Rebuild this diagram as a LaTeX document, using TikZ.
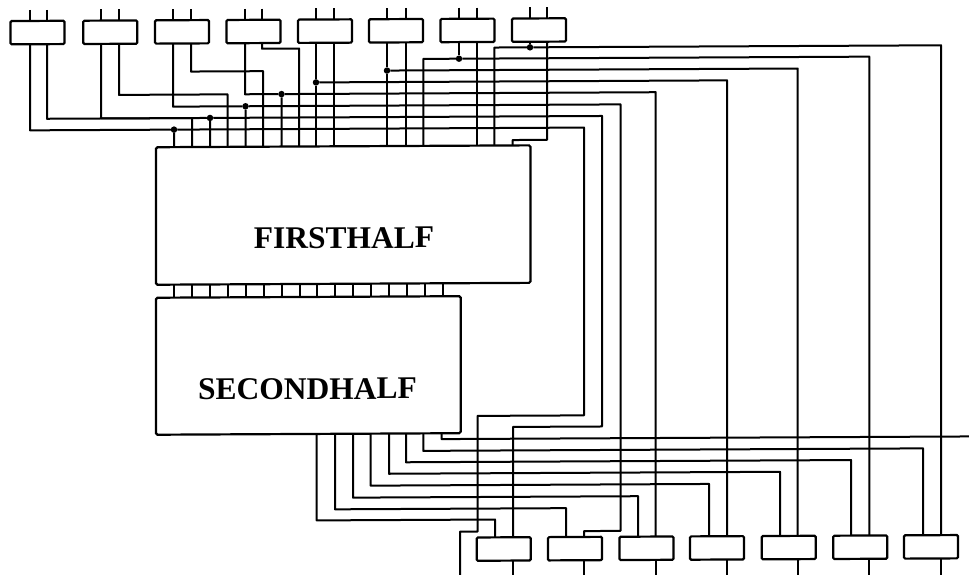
\documentclass[tikz,border=0pt]{standalone}
\usepackage{fontspec}
\setmainfont{Liberation Serif}
\tikzset{
  wire/.style={line width=2pt,line join=round},
  unitbox/.style={draw,line width=2.2pt,rounded corners=1.2pt,minimum width=54pt,minimum height=23.3pt,inner sep=0pt,outer sep=0pt},
  blockbox/.style={draw,line width=2.2pt,rounded corners=1.5pt,inner sep=0pt,outer sep=0pt},
  blocklabel/.style={font=\bfseries\fontsize{31.5}{34}\selectfont,inner sep=0pt},
  joint/.style={circle,fill=black,inner sep=0pt,minimum size=6.5pt,outer sep=0pt}
}
\begin{document}
\begin{tikzpicture}
\useasboundingbox (0,0) rectangle (969pt,-575pt);
\clip (0,0) rectangle (969pt,-575pt);
\begin{scope}[x=1pt,y=-1pt,yslant=0.005,every node/.append style={transform shape}]
% blocks
\node[blockbox,minimum width=374.5pt,minimum height=137.5pt] (first) at (343.25,216.75) {};
\node[blockbox,minimum width=304.7pt,minimum height=137pt] (second) at (308.35,367) {};
\node[blocklabel] (firstlabel) at (344,239.7) {FIRSTHALF};
\node[blocklabel] (secondlabel) at (307.5,390.5) {SECONDHALF};
% links between the blocks
\foreach \i in {0,...,15}{
  \coordinate (ma\i) at ({174+17.93*\i},285.5);
  \coordinate (mb\i) at ({174+17.93*\i},298.5);
  \draw[wire] (ma\i) -- (mb\i);
}
% top units
\foreach \n/\c/\a/\b in {1/37.5/30/47,2/110.3/101/119,3/182/173/191,4/253.5/245/262,5/325/316/334,6/396/387/405.5,7/467.5/459/476.5,8/539/530/547}{
  \node[unitbox] (t\n) at (\c,32.75) {};
  \coordinate (ia\n) at (\a,10);
  \coordinate (ib\n) at (\b,10);
  \coordinate (ua\n) at (\a,21);
  \coordinate (ub\n) at (\b,21);
  \coordinate (a\n) at (\a,44.5);
  \coordinate (b\n) at (\b,44.5);
  \draw[wire] (ia\n) -- (ua\n);
  \draw[wire] (ib\n) -- (ub\n);
}
% pins on the top of the first block
\foreach \n/\x in {1/174,2/192,3/210,4/227.5,5/245.5,6/263,7/281.5,8/299,9/316,10/334,11/387,12/405.5,13/423.3,14/476.5,15/494.3,16/512.5}{
  \coordinate (p\n) at (\x,148);
}
% bottom units
\foreach \n/\c/\x in {1/503.7/513,2/575/584,3/646.5/655.7,4/717/727,5/788.7/797.7,6/860.2/869.3,7/931/941}{
  \node[unitbox] (u\n) at (\c,551.5) {};
  \coordinate (v\n) at (\x,540);
  \coordinate (w\n) at (\x,563.2);
  \coordinate (z\n) at (\x,582);
  \draw[wire] (w\n) -- (z\n);
}
% joints
\node[joint] (d1) at (174,130.5) {};
\node[joint] (d2) at (210,119) {};
\node[joint] (d3) at (245.5,107.5) {};
\node[joint] (d4) at (281.5,95.5) {};
\node[joint] (d5) at (316,84) {};
\node[joint] (d6) at (387,72.5) {};
\node[joint] (d7) at (459,61) {};
\node[joint] (d8) at (530,50) {};
% bends
\coordinate (h1) at (47,119);
\coordinate (h2) at (119,95.5);
\coordinate (h3) at (191,72.5);
\coordinate (h4) at (262,50);
% top unit outputs into first block
\draw[wire] (a1) |- (d1) -- (p1);
\draw[wire] (b1) |- (p2 |- h1) -- (p2);
\draw[wire] (a2) |- (d2) -- (p3);
\draw[wire] (b2) |- (p4 |- h2) -- (p4);
\draw[wire] (a3) |- (d3) -- (p5);
\draw[wire] (b3) |- (p6 |- h3) -- (p6);
\draw[wire] (a4) |- (d4) -- (p7);
\draw[wire] (b4) |- (p8 |- h4) -- (p8);
\draw[wire] (a5) -- (d5) -- (p9);
\draw[wire] (b5) -- (p10);
\draw[wire] (a6) -- (d6) -- (p11);
\draw[wire] (b6) -- (p12);
\draw[wire] (a7) -- (d7);
\draw[wire] (d7) -- (p13 |- d7) -- (p13);
\draw[wire] (b7) -- (p14);
\draw[wire] (a8) -- (d8);
\draw[wire] (d8) -- (p15 |- d8) -- (p15);
\coordinate (r8) at (547,142.6);
\draw[wire] (b8) -- (r8) -- (p16 |- r8) -- (p16);
% long rows to the bottom units
\draw[wire] (d8) -- (v7 |- d8) -- (v7);
\draw[wire] (d7) -- (v6 |- d7) -- (v6);
\draw[wire] (d6) -- (v5 |- d6) -- (v5);
\draw[wire] (d5) -- (v4 |- d5) -- (v4);
\draw[wire] (d4) -- (v3 |- d4) -- (v3);
\coordinate (c3) at (620.5,534);
\draw[wire] (d3) -- (c3 |- d3) -- (c3) -- (v2 |- c3) -- (v2);
\coordinate (c2) at (602,429.5);
\draw[wire] (d2) -- (c2 |- d2) -- (c2) -- (v1 |- c2) -- (v1);
\coordinate (c1) at (584,418.3);
\coordinate (e1) at (477.5,534);
\coordinate (e2) at (460,582);
\draw[wire] (d1) -- (c1 |- d1) -- (c1) -- (e1 |- c1) -- (e1) -- (e2 |- e1) -- (e2);
% second block outputs
\foreach \n/\x/\y/\tx in {1/316.7/522/495,2/335/511/566,3/353/499.4/638,4/370.7/487.5/709,5/389/475.7/780,6/406/464.3/851,7/423.3/453/923}{
  \coordinate (s\n) at (\x,435.5);
  \coordinate (q\n) at (\x,\y);
  \coordinate (in\n) at (\tx,540);
  \draw[wire] (s\n) -- (q\n) -- (in\n |- q\n) -- (in\n);
}
\coordinate (s8) at (441.7,435.5);
\coordinate (q8) at (441.7,441.3);
\coordinate (out8) at (975,441.3);
\draw[wire] (s8) -- (q8) -- (out8);
\end{scope}
\end{tikzpicture}
\end{document}
